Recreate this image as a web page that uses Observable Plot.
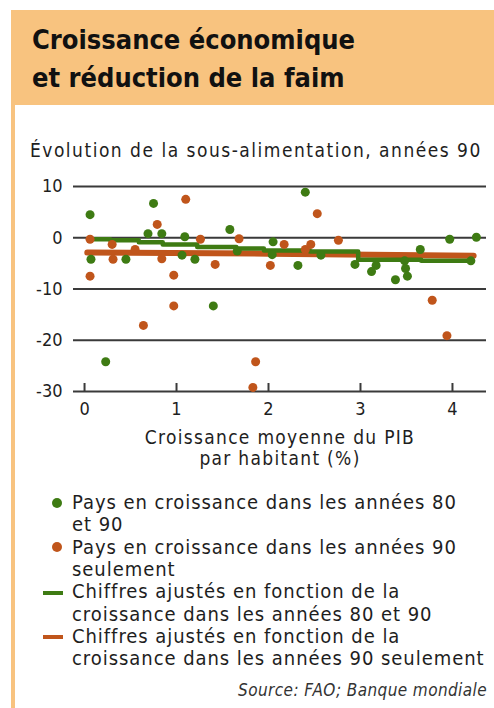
<!DOCTYPE html>
<html lang="fr">
<head>
<meta charset="utf-8">
<script src="https://cdn.jsdelivr.net/npm/d3@7"></script>
<script src="https://cdn.jsdelivr.net/npm/@observablehq/plot@0.6"></script>
<style>
  html, body { margin: 0; padding: 0; background: #fff; }
  #page { position: relative; width: 494px; height: 708px; overflow: hidden; background: #fff;
          font-family: "DejaVu Sans Condensed", "DejaVu Sans", sans-serif; font-stretch: condensed; color: #1e1e1e; }
  .abs { position: absolute; white-space: nowrap; }
  #band { left: 11px; top: 10px; width: 483px; height: 95px; background: #f8c37f; }
  #border { left: 11px; top: 10px; width: 4px; height: 698px; background: #f8c37f; }
  #title { left: 32px; top: 20.6px; font-size: 27px; line-height: 38px; font-weight: bold; color: #111; }
  #subtitle { left: 30px; top: 140px; font-size: 19px; line-height: 20px; letter-spacing: 1.5px; }
  .xl { left: 80px; width: 400px; text-align: center; font-size: 19px; line-height: 21px; height: 21px; letter-spacing: 1.3px; }
  #legend { left: 72px; top: 491.2px; font-size: 20px; line-height: 22.3px; letter-spacing: 0.95px; }
  .item { position: relative; }
  .dot { position: absolute; left: -20px; width: 10px; height: 10px; border-radius: 50%; top: 6.5px; }
  .dash { position: absolute; left: -29px; width: 20px; height: 4px; top: 10.5px; }
  #source { right: 7px; top: 680px; font-size: 17px; line-height: 20px; font-style: italic; color: #333; letter-spacing: 0.4px; }
  #chart { left: 0; top: 170px; }
</style>
</head>
<body>
<div id="page">
  <div id="band" class="abs"></div>
  <div id="border" class="abs"></div>
  <div id="title" class="abs">Croissance économique<br>et réduction de la faim</div>
  <div id="subtitle" class="abs">Évolution de la sous-alimentation, années 90</div>
  <div id="chart" class="abs"></div>
  <div class="abs xl" style="top: 427px;">Croissance moyenne du PIB</div>
  <div class="abs xl" style="top: 448px;">par habitant (%)</div>
  <div id="legend" class="abs"></div>
  <div id="source" class="abs">Source: FAO; Banque mondiale</div>
</div>
<script>
// Series colours
const green = "#3e7b13";
const orange = "#c0551b";

// Pays en croissance dans les années 80 et 90
const greenX = [0.06, 0.07, 0.23, 0.45, 0.75, 0.69, 0.84, 1.09, 1.06, 1.20, 1.40, 1.58, 1.66, 2.05, 2.04, 2.32, 2.40, 2.57, 2.94, 3.17, 3.12, 3.38, 3.48, 3.49, 3.51, 3.65, 3.97, 4.26, 4.20];
const greenY = [4.5, -4.2, -24.2, -4.2, 6.7, 0.8, 0.8, 0.2, -3.4, -4.2, -13.3, 1.6, -2.6, -0.8, -3.3, -5.4, 8.9, -3.4, -5.2, -5.4, -6.6, -8.2, -4.5, -6.0, -7.5, -2.3, -0.3, 0.1, -4.5];

// Pays en croissance dans les années 90 seulement
const orangeX = [0.06, 0.06, 0.30, 0.31, 0.55, 0.64, 0.79, 0.84, 0.97, 0.97, 1.10, 1.26, 1.42, 1.68, 1.86, 1.83, 2.02, 2.17, 2.40, 2.46, 2.53, 2.76, 3.78, 3.94];
const orangeY = [-0.3, -7.5, -1.3, -4.2, -2.3, -17.1, 2.6, -4.1, -7.3, -13.3, 7.5, -0.3, -5.2, -0.2, -24.2, -29.2, -5.4, -1.3, -2.3, -1.3, 4.7, -0.5, -12.2, -19.1];

// Chiffres ajustés (80 et 90)
const greenFitX = [0.08, 0.48, 0.70, 1.00, 1.45, 1.85, 2.05, 2.85, 3.10, 4.22];
const greenFitY = [-0.3, -0.5, -0.9, -1.3, -1.8, -2.1, -2.5, -2.7, -4.3, -4.5];

// Chiffres ajustés (90 seulement)
const orangeFitX = [0.03, 2.00, 4.23];
const orangeFitY = [-2.9, -3.1, -3.5];

// Axis ticks
const xTicks = [0, 1, 2, 3, 4];
const yTicks = [10, 0, -10, -20, -30];
const gridY = [10, 0, -10, -20];

// Legend
const legendItems = [
  {kind: "dot", color: green, lines: ["Pays en croissance dans les années 80", "et 90"]},
  {kind: "dot", color: orange, lines: ["Pays en croissance dans les années 90", "seulement"]},
  {kind: "dash", color: green, lines: ["Chiffres ajustés en fonction de la", "croissance dans les années 80 et 90"]},
  {kind: "dash", color: orange, lines: ["Chiffres ajustés en fonction de la", "croissance dans les années 90 seulement"]}
];

const greenPts = greenX.map((x, i) => ({x, y: greenY[i]}));
const orangePts = orangeX.map((x, i) => ({x, y: orangeY[i]}));
const greenFit = greenFitX.map((x, i) => ({x, y: greenFitY[i]}));
const orangeFit = orangeFitX.map((x, i) => ({x, y: orangeFitY[i]}));

const chart = Plot.plot({
  width: 494,
  height: 250,
  marginLeft: 73,
  marginRight: 8,
  marginTop: 16,
  marginBottom: 29,
  style: {background: "transparent", fontFamily: "'DejaVu Sans Condensed', 'DejaVu Sans', sans-serif", fontSize: "18px", color: "#1e1e1e", overflow: "visible"},
  x: {domain: [-0.12, 4.37]},
  y: {domain: [-30, 10]},
  marks: [
    Plot.ruleY(gridY, {stroke: "#3a3a3a", strokeWidth: 2}),
    Plot.ruleY([-30], {stroke: "#3a3a3a", strokeWidth: 2}),
    Plot.axisY({ticks: yTicks, tickSize: 0, tickPadding: 11, tickFormat: d => String(d), label: null, fontSize: 18}),
    Plot.axisX({ticks: xTicks, tickSize: -8, tickPadding: 19, strokeWidth: 2, stroke: "#3a3a3a", tickFormat: d => String(d), label: null, fontSize: 18}),
    Plot.line(orangeFit, {x: "x", y: "y", stroke: orange, strokeWidth: 6}),
    Plot.line(greenFit, {x: "x", y: "y", stroke: green, strokeWidth: 4.5, curve: "step"}),
    Plot.dot(orangePts, {x: "x", y: "y", r: 4.5, fill: orange}),
    Plot.dot(greenPts, {x: "x", y: "y", r: 4.5, fill: green})
  ]
});
document.getElementById("chart").appendChild(chart);

const legend = document.getElementById("legend");
for (const it of legendItems) {
  const div = document.createElement("div");
  div.className = "item";
  const m = document.createElement("span");
  m.className = it.kind;
  m.style.background = it.color;
  div.appendChild(m);
  div.appendChild(document.createTextNode(it.lines[0]));
  div.appendChild(document.createElement("br"));
  div.appendChild(document.createTextNode(it.lines[1]));
  legend.appendChild(div);
}
</script>
</body>
</html>
